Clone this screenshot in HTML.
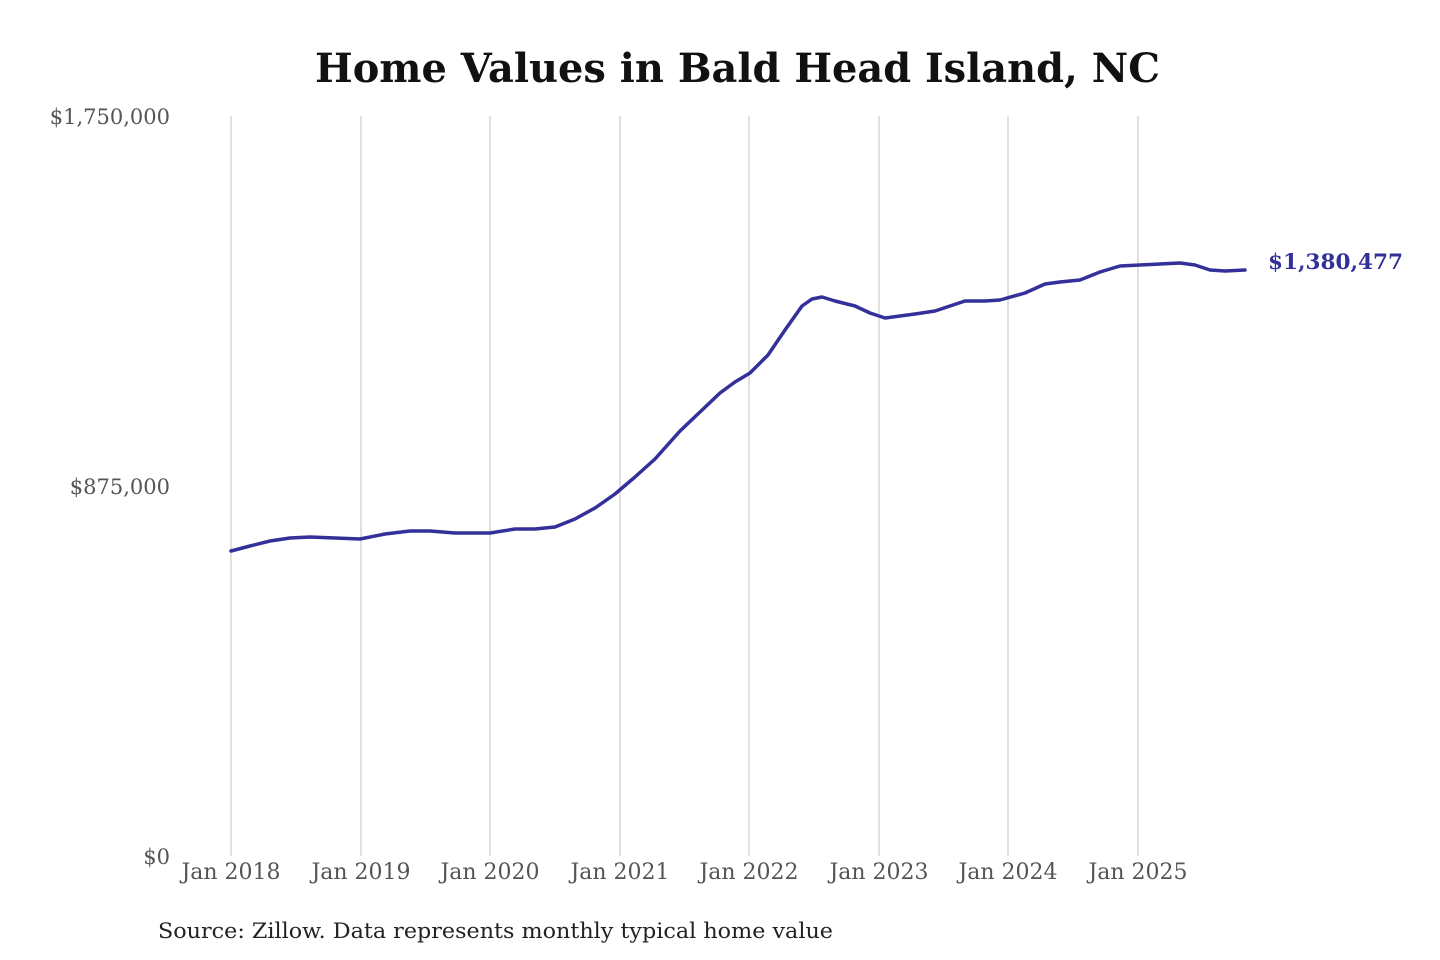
<!DOCTYPE html>
<html><head><meta charset="utf-8"><style>
html,body{margin:0;padding:0;background:#fff;}
svg{display:block}
</style></head><body>
<svg width="1440" height="960" xmlns="http://www.w3.org/2000/svg">
<text x="315" y="82" textLength="845" lengthAdjust="spacingAndGlyphs" font-family="DejaVu Serif, Liberation Serif, serif" font-weight="bold" font-size="40" fill="#111">Home Values in Bald Head Island, NC</text>
<g stroke="#c0c0c0" stroke-width="1">
<line x1="231" y1="116" x2="231" y2="856"/><line x1="361" y1="116" x2="361" y2="856"/>
<line x1="490" y1="116" x2="490" y2="856"/><line x1="620" y1="116" x2="620" y2="856"/>
<line x1="749" y1="116" x2="749" y2="856"/><line x1="879" y1="116" x2="879" y2="856"/>
<line x1="1008" y1="116" x2="1008" y2="856"/><line x1="1138" y1="116" x2="1138" y2="856"/>
</g>
<g font-family="DejaVu Serif, Liberation Serif, serif" font-size="21" fill="#555" text-anchor="end">
<text x="170" y="124">$1,750,000</text>
<text x="170" y="494">$875,000</text>
<text x="170" y="864">$0</text>
</g>
<g font-family="DejaVu Serif, Liberation Serif, serif" font-size="22" fill="#555" text-anchor="middle">
<text x="231" y="879">Jan 2018</text><text x="361" y="879">Jan 2019</text>
<text x="490" y="879">Jan 2020</text><text x="620" y="879">Jan 2021</text>
<text x="749" y="879">Jan 2022</text><text x="879" y="879">Jan 2023</text>
<text x="1008" y="879">Jan 2024</text><text x="1138" y="879">Jan 2025</text>
</g>
<polyline fill="none" stroke="#33309a" stroke-width="3.5" stroke-linejoin="round" stroke-linecap="round" points="231,551 250,546 270,541 290,538 310,537 335,538 360,539 385,534 410,531 430,531 455,533 490,533 515,529 535,529 555,527 575,519 595,508 615,494 635,477 655,459 680,431 700,412 720,393 735,382 750,373 768,355 785,330 802,306 812,299 822,297 835,301 855,306 870,313 885,318 900,316 915,314 935,311 950,306 965,301 985,301 1000,300 1025,293 1045,284 1060,282 1080,280 1100,272 1120,266 1140,265 1160,264 1180,263 1195,265 1210,270 1225,271 1245,270"/>
<text x="1268" y="269" textLength="135" lengthAdjust="spacingAndGlyphs" font-family="DejaVu Serif, Liberation Serif, serif" font-weight="bold" font-size="21" fill="#33309a">$1,380,477</text>
<text x="158" y="938" textLength="675" lengthAdjust="spacingAndGlyphs" font-family="DejaVu Serif, Liberation Serif, serif" font-size="21" fill="#222">Source: Zillow. Data represents monthly typical home value</text>
</svg>
</body></html>
